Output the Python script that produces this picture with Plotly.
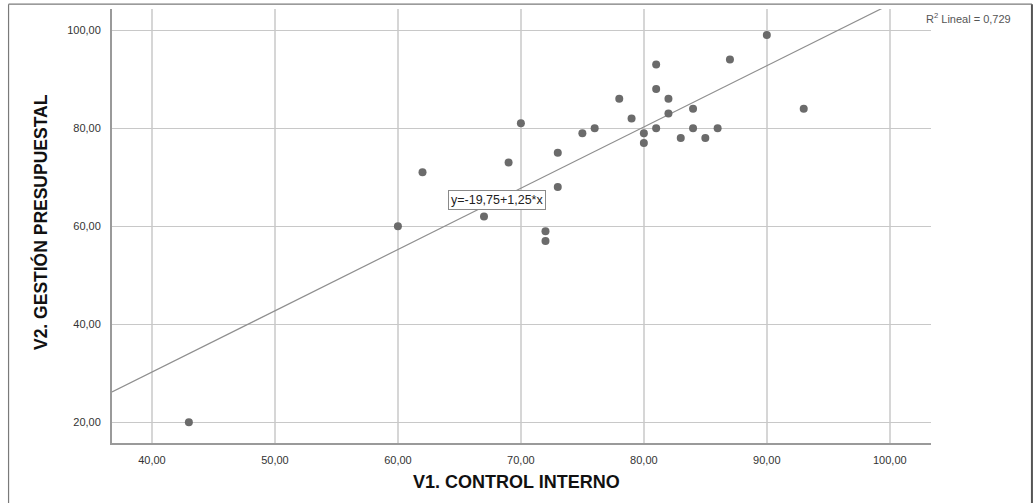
import plotly.graph_objects as go

# Data: V1 (Control interno) vs V2 (Gestión presupuestal)
v1_control_interno = [43, 60, 62, 67, 69, 70, 72, 72, 73, 73, 75, 76, 78, 79, 80, 80,
                      81, 81, 81, 82, 82, 83, 84, 84, 85, 86, 87, 90, 93]
v2_gestion_presup = [20, 60, 71, 62, 73, 81, 59, 57, 75, 68, 79, 80, 86, 82, 79, 77,
                     93, 88, 80, 86, 83, 78, 84, 80, 78, 80, 94, 99, 84]

fit_intercept = -19.75
fit_slope = 1.25
r2_value = "0,729"
fit_label = "y=-19,75+1,25*x"

x_tickvals = [40, 50, 60, 70, 80, 90, 100]
x_ticktext = ["40,00", "50,00", "60,00", "70,00", "80,00", "90,00", "100,00"]
y_tickvals = [20, 40, 60, 80, 100]
y_ticktext = ["20,00", "40,00", "60,00", "80,00", "100,00"]

x_range = [36.75, 103.35]
y_range = [15.77, 104.33]

fit_x = [x_range[0], x_range[1]]
fit_y = [fit_intercept + fit_slope * v for v in fit_x]

fig = go.Figure()

fig.add_trace(go.Scatter(
    x=fit_x, y=fit_y, mode="lines",
    line=dict(color="#8f8f8f", width=1.2),
    hoverinfo="skip", showlegend=False,
))

fig.add_trace(go.Scatter(
    x=v1_control_interno, y=v2_gestion_presup, mode="markers",
    marker=dict(color="#6b6b6b", size=8, line=dict(width=0)),
    showlegend=False,
))

L, R, T, B = 112, 102.5, 9.3, 60.3
W, H = 1034, 503
pw = W - L - R
ph = H - T - B

def px_to_paper_x(px):
    return (px - L) / pw

def px_to_paper_y(py):
    return (H - B - py) / ph

fig.update_layout(
    width=W, height=H,
    margin=dict(l=L, r=R, t=T, b=B, pad=0),
    paper_bgcolor="white", plot_bgcolor="white",
    font=dict(family="Liberation Sans, Arial, sans-serif", size=11, color="#333333"),
    xaxis=dict(
        range=x_range, tickvals=x_tickvals, ticktext=x_ticktext,
        showgrid=True, gridcolor="#d6d6d6", gridwidth=2,
        showline=True, linecolor="#9a9a9a", linewidth=2,
        zeroline=False, ticks="", ticklabelstandoff=6,
        tickfont=dict(size=11, color="#333333"),
    ),
    yaxis=dict(
        range=y_range, tickvals=y_tickvals, ticktext=y_ticktext,
        showgrid=True, gridcolor="#c8c8c8", gridwidth=1,
        showline=True, linecolor="#9a9a9a", linewidth=2,
        zeroline=False, ticks="", ticklabelstandoff=7,
        tickfont=dict(size=11, color="#333333"),
    ),
    shapes=[
        dict(type="line", xref="paper", yref="paper",
             x0=px_to_paper_x(8.5), x1=px_to_paper_x(8.5),
             y0=px_to_paper_y(4.5), y1=px_to_paper_y(510),
             line=dict(color="#7a7a7a", width=1.2)),
        dict(type="line", xref="paper", yref="paper",
             x0=px_to_paper_x(8.5), x1=px_to_paper_x(1032.5),
             y0=px_to_paper_y(4.5), y1=px_to_paper_y(4.5),
             line=dict(color="#7a7a7a", width=1.2)),
        dict(type="line", xref="paper", yref="paper",
             x0=px_to_paper_x(1032.5), x1=px_to_paper_x(1032.5),
             y0=px_to_paper_y(4.5), y1=px_to_paper_y(510),
             line=dict(color="#555555", width=2)),
    ],
    annotations=[
        dict(x=68.09, y=65.43, xref="x", yref="y", text=fit_label,
             showarrow=False, font=dict(size=12.5, color="#222222"),
             bgcolor="white", bordercolor="#8a8a8a", borderwidth=1, borderpad=2),
        dict(x=px_to_paper_x(924), y=px_to_paper_y(18), xref="paper", yref="paper",
             xanchor="left", yanchor="middle", showarrow=False,
             text="R<sup>2</sup> Lineal = " + r2_value,
             font=dict(size=11, color="#555555")),
        dict(x=px_to_paper_x(517), y=px_to_paper_y(482), xref="paper", yref="paper",
             xanchor="center", yanchor="middle", showarrow=False,
             text="<b>V1. CONTROL INTERNO</b>",
             font=dict(size=18, color="#111111", family="Liberation Sans, Arial, sans-serif")),
        dict(x=px_to_paper_x(41), y=px_to_paper_y(222), xref="paper", yref="paper",
             xanchor="center", yanchor="middle", showarrow=False, textangle=-90,
             text="<b>V2. GESTIÓN PRESUPUESTAL</b>",
             font=dict(size=17.5, color="#111111",
                       family="Liberation Sans Narrow, Arial Narrow, Liberation Sans, sans-serif")),
    ],
)

fig.write_html(
    "out.html",
    config={"displayModeBar": False},
    post_script="document.body.style.margin='0';document.body.style.overflow='hidden';",
)
